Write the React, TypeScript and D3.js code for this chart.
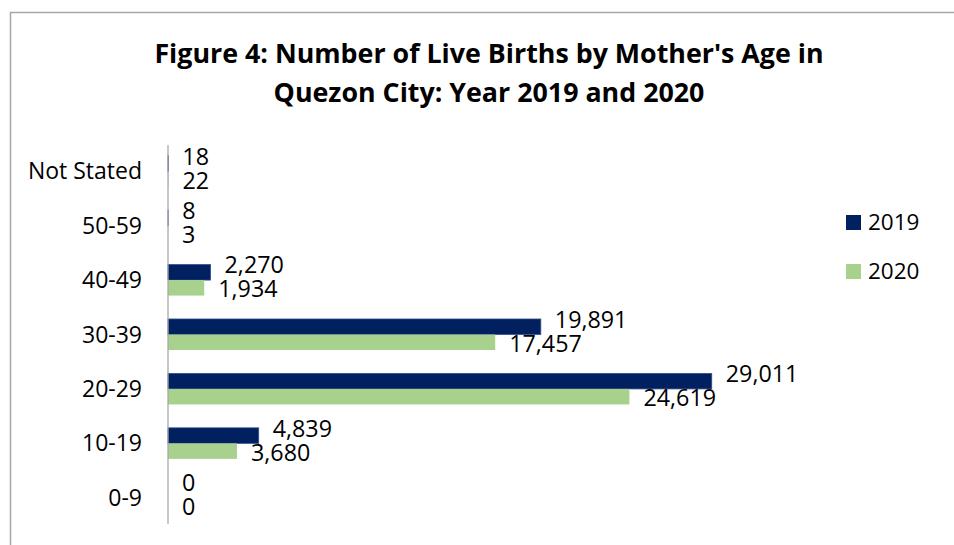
import React from "react";
import * as d3 from "d3";

const categories = ["Not Stated", "50-59", "40-49", "30-39", "20-29", "10-19", "0-9"];
const values2019 = [18, 8, 2270, 19891, 29011, 4839, 0];
const values2020 = [22, 3, 1934, 17457, 24619, 3680, 0];
const seriesNames = ["2019", "2020"];
const titleLines = ["Figure 4: Number of Live Births by Mother's Age in", "Quezon City: Year 2019 and 2020"];

const COLORS = ["#002060", "#A9D18E"];
const FONT = "'Open Sans', Lato, sans-serif";

export default function App() {
  const W = 954, H = 545;
  const x0 = 168;
  const x = d3.scaleLinear().domain([0, 35000]).range([x0, 824]);
  const y = d3.scaleBand<string>().domain(categories).range([144, 525]).paddingInner(0.43).paddingOuter(0.215);
  const sub = d3.scaleBand<string>().domain(seriesNames).range([0, y.bandwidth()]);
  const fmt = d3.format(",");
  const series = [values2019, values2020];

  return (
    <svg width={W} height={H} style={{ position: "absolute", left: 0, top: 0, background: "#fff" }} fontFamily={FONT}>
      <rect x={10.5} y={12.5} width={1200} height={800} fill="#fff" stroke="#a6a6a6" strokeWidth={1.5} />
      {titleLines.map((t, i) => (
        <text key={i} x={489} y={63 + i * 39} textAnchor="middle" fontSize={26.8} fontWeight="bold" fill="#000">{t}</text>
      ))}
      {categories.map((c) => (
        <text key={c} x={142} y={(y(c) as number) + y.bandwidth() / 2} dy="0.35em" textAnchor="end" fontSize={23} fill="#000">{c}</text>
      ))}
      {series.map((vals, si) => (
        <g key={si}>
          {categories.map((c, ci) => {
            const by = (y(c) as number) + (sub(seriesNames[si]) as number);
            const bh = sub.bandwidth();
            const w = x(vals[ci]) - x0;
            return (
              <g key={c}>
                {w > 0 && (
                  <rect x={x0} y={by} width={w} height={bh} fill={COLORS[si]}
                    stroke={si === 0 ? "#2f4f8f" : "none"} strokeWidth={0.8} />
                )}
                <text x={x(vals[ci]) + 14} y={by + bh / 2 + (si === 0 ? -7 : 1.5)} dy="0.35em" fontSize={23.3} fill="#000">{fmt(vals[ci])}</text>
              </g>
            );
          })}
        </g>
      ))}
      <line x1={x0} x2={x0} y1={145} y2={524} stroke="#a6a6a6" strokeWidth={1.25} />
      {seriesNames.map((s, i) => (
        <g key={s}>
          <rect x={846} y={215 + i * 49} width={15} height={15} fill={COLORS[i]} />
          <text x={868} y={222.5 + i * 49} dy="0.35em" fontSize={22.5} fill="#000">{s}</text>
        </g>
      ))}
    </svg>
  );
}
